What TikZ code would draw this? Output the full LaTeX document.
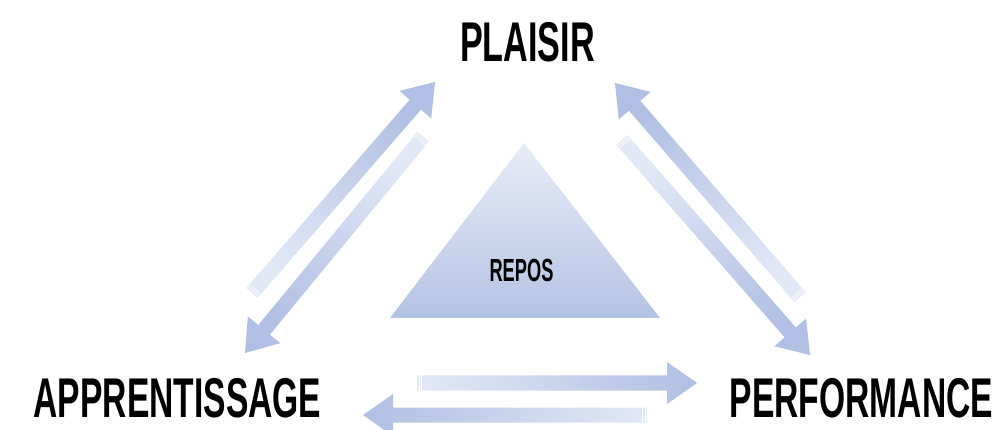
\documentclass[tikz,border=0pt]{standalone}
\usepackage{fontspec}
\setmainfont{Liberation Sans}
\usetikzlibrary{calc}
\definecolor{bleufonce}{RGB}{176,191,227}
\definecolor{bleupale}{RGB}{226,232,246}
\definecolor{bleutri}{RGB}{180,194,227}
\definecolor{bleutrihaut}{RGB}{232,236,247}
\newcommand{\serre}[2][0.6]{\scalebox{#1}[1]{#2}}
\newcommand{\fleche}[2]{%
  \pgfmathanglebetweenpoints{\pgfpointanchor{#1}{center}}{\pgfpointanchor{#2}{center}}%
  \pgfmathsetmacro\angfleche{\pgfmathresult-90}%
  \coordinate (col) at ($(#2)!30pt!(#1)$);
  \shade[fleche, shading angle=\angfleche]
    ($(#1)!7.5pt!90:(#2)$) -- ($(col)!7.5pt!-90:(#1)$) -- ($(col)!21pt!-90:(#1)$) -- (#2)
    -- ($(col)!21pt!90:(#1)$) -- ($(col)!7.5pt!90:(#1)$) -- ($(#1)!7.5pt!-90:(#2)$) -- cycle;
  \foreach \pas in {2,4.5}{
    \coordinate (raie) at ($(#1)!\pas pt!(#2)$);
    \draw[rayure] ($(raie)!7.5pt!90:(#2)$) -- ($(raie)!7.5pt!-90:(#2)$);
  }
}
\begin{document}
\begin{tikzpicture}[x=1pt,y=-1pt,
  etiquette/.style={inner sep=0pt, font=\fontsize{56}{56}\selectfont\bfseries},
  fleche/.style={bottom color=bleupale, top color=bleufonce},
  rayure/.style={white, line width=0.7pt}]
  \useasboundingbox (0,0) rectangle (999,430);
  \shade[top color=bleutrihaut, bottom color=bleutri] (524,143) -- (660,318) -- (390,318) -- cycle;
  \node[etiquette, font=\fontsize{32}{32}\selectfont\bfseries] (repos) at (521.5,270) {\serre[0.57]{REPOS}};
  \node[etiquette] (plaisir) at (527.5,42) {\serre[0.61]{PLAISIR}};
  \node[etiquette] (apprentissage) at (177.5,398) {\serre{APPRENTISSAGE}};
  \node[etiquette] (performance) at (861.5,398) {\serre{PERFORMANCE}};
  \coordinate (ap-q) at (252,293);
  \coordinate (ap-p) at (435,82);
  \coordinate (pa-q) at (423,137);
  \coordinate (pa-p) at (245,353);
  \coordinate (pp-q) at (800,297);
  \coordinate (pp-p) at (615,83);
  \coordinate (ppf-q) at (622,140);
  \coordinate (ppf-p) at (810,355);
  \coordinate (af-q) at (417,383);
  \coordinate (af-p) at (697,383);
  \coordinate (fa-q) at (647,415);
  \coordinate (fa-p) at (363,415);
  \fleche{ap-q}{ap-p}
  \fleche{pa-q}{pa-p}
  \fleche{pp-q}{pp-p}
  \fleche{ppf-q}{ppf-p}
  \fleche{af-q}{af-p}
  \fleche{fa-q}{fa-p}
\end{tikzpicture}
\end{document}
